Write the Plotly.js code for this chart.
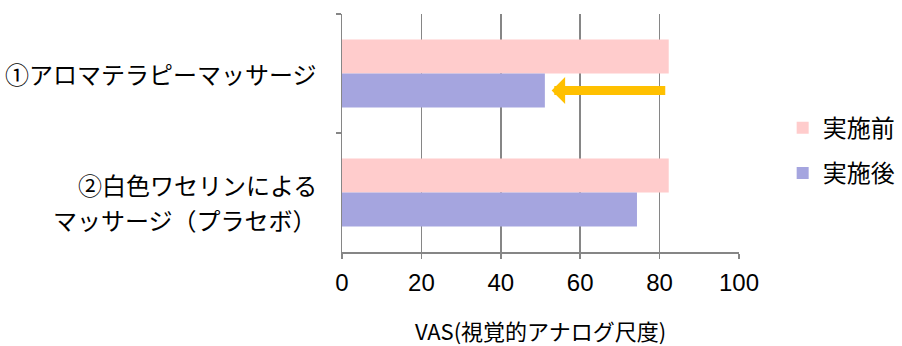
<!DOCTYPE html>
<html>
<head>
<meta charset="utf-8">
<script src="https://cdn.plot.ly/plotly-3.0.1.min.js"></script>
<style>html,body{margin:0;padding:0;background:#fff;}#chart{width:902px;height:346px;}</style>
</head>
<body>
<div id="chart"></div>
<script>
const categories = ['①アロマテラピーマッサージ', '②白色ワセリンによる<br>マッサージ（プラセボ）'];
const seriesNames = ['実施前', '実施後'];
const before = [82.3, 82.3];
const after = [51.1, 74.3];
const xTicks = [0, 20, 40, 60, 80, 100];
const xTitle = 'VAS(視覚的アナログ尺度)';

const jp = '"Noto Sans CJK JP", "Noto Sans", sans-serif';
const grid = '#868686';

const traces = [
  {type: 'bar', orientation: 'h', name: seriesNames[0], y: categories, x: before,
   marker: {color: '#FFCCCC', line: {width: 0}}, legendgroup: 'a', hoverinfo: 'x'},
  {type: 'bar', orientation: 'h', name: seriesNames[1], y: categories, x: after,
   marker: {color: '#A5A5DF', line: {width: 0}}, legendgroup: 'b', hoverinfo: 'x'}
];

// category labels drawn as one annotation per text line
const labelAnns = [];
categories.forEach((c, i) => {
  const lines = c.split('<br>');
  const n = lines.length;
  lines.forEach((ln, j) => {
    labelAnns.push({
      xref: 'paper', yref: 'y', x: -0.059, y: i, xanchor: 'right', yanchor: 'middle',
      text: ln, showarrow: false, font: {family: jp, size: 24, color: '#000'},
      yshift: n > 1 ? (-(j - (n - 1) / 2) * 35 - 9) : 0
    });
  });
});

const layout = {
  width: 902, height: 346,
  margin: {l: 342, r: 163, t: 14, b: 94, autoexpand: false},
  paper_bgcolor: '#fff', plot_bgcolor: '#fff',
  barmode: 'group', bargap: 0.43, bargroupgap: 0,
  showlegend: true,
  legend: {x: 1.11, xanchor: 'left', y: 0.615, yanchor: 'top', traceorder: 'grouped', tracegroupgap: 11,
           font: {family: jp, size: 24, color: '#000'}, bgcolor: 'rgba(0,0,0,0)'},
  xaxis: {range: [0, 100], tickvals: xTicks, ticktext: xTicks.map(String),
          showgrid: true, gridcolor: grid, gridwidth: 1.5, zeroline: false,
          showline: true, linecolor: grid, linewidth: 1.5,
          ticks: 'outside', ticklen: 5, tickcolor: grid, tickwidth: 1.5,
          tickfont: {family: '"Liberation Sans", Arial, sans-serif', size: 24, color: '#000'},
          ticklabelstandoff: 4,
          title: {text: xTitle, font: {family: jp, size: 22, color: '#000'}, standoff: 33},
          fixedrange: true},
  yaxis: {type: 'category', autorange: 'reversed', showgrid: false, zeroline: false,
          showline: true, linecolor: grid, linewidth: 1.5,
          ticks: 'outside', tickson: 'boundaries', ticklen: 5, tickcolor: grid, tickwidth: 1.5,
          showticklabels: false, fixedrange: true},
  annotations: labelAnns.concat([{
    xref: 'x', yref: 'y', axref: 'x', ayref: 'y',
    x: after[0] + 1.7, y: 0.143, ax: before[0] - 0.5, ay: 0.143,
    text: '', showarrow: true, arrowhead: 1, arrowsize: 0.5, arrowwidth: 9,
    arrowcolor: '#FFC000'
  }])
};

Plotly.newPlot('chart', traces, layout, {displayModeBar: false, staticPlot: true});
</script>
</body>
</html>
